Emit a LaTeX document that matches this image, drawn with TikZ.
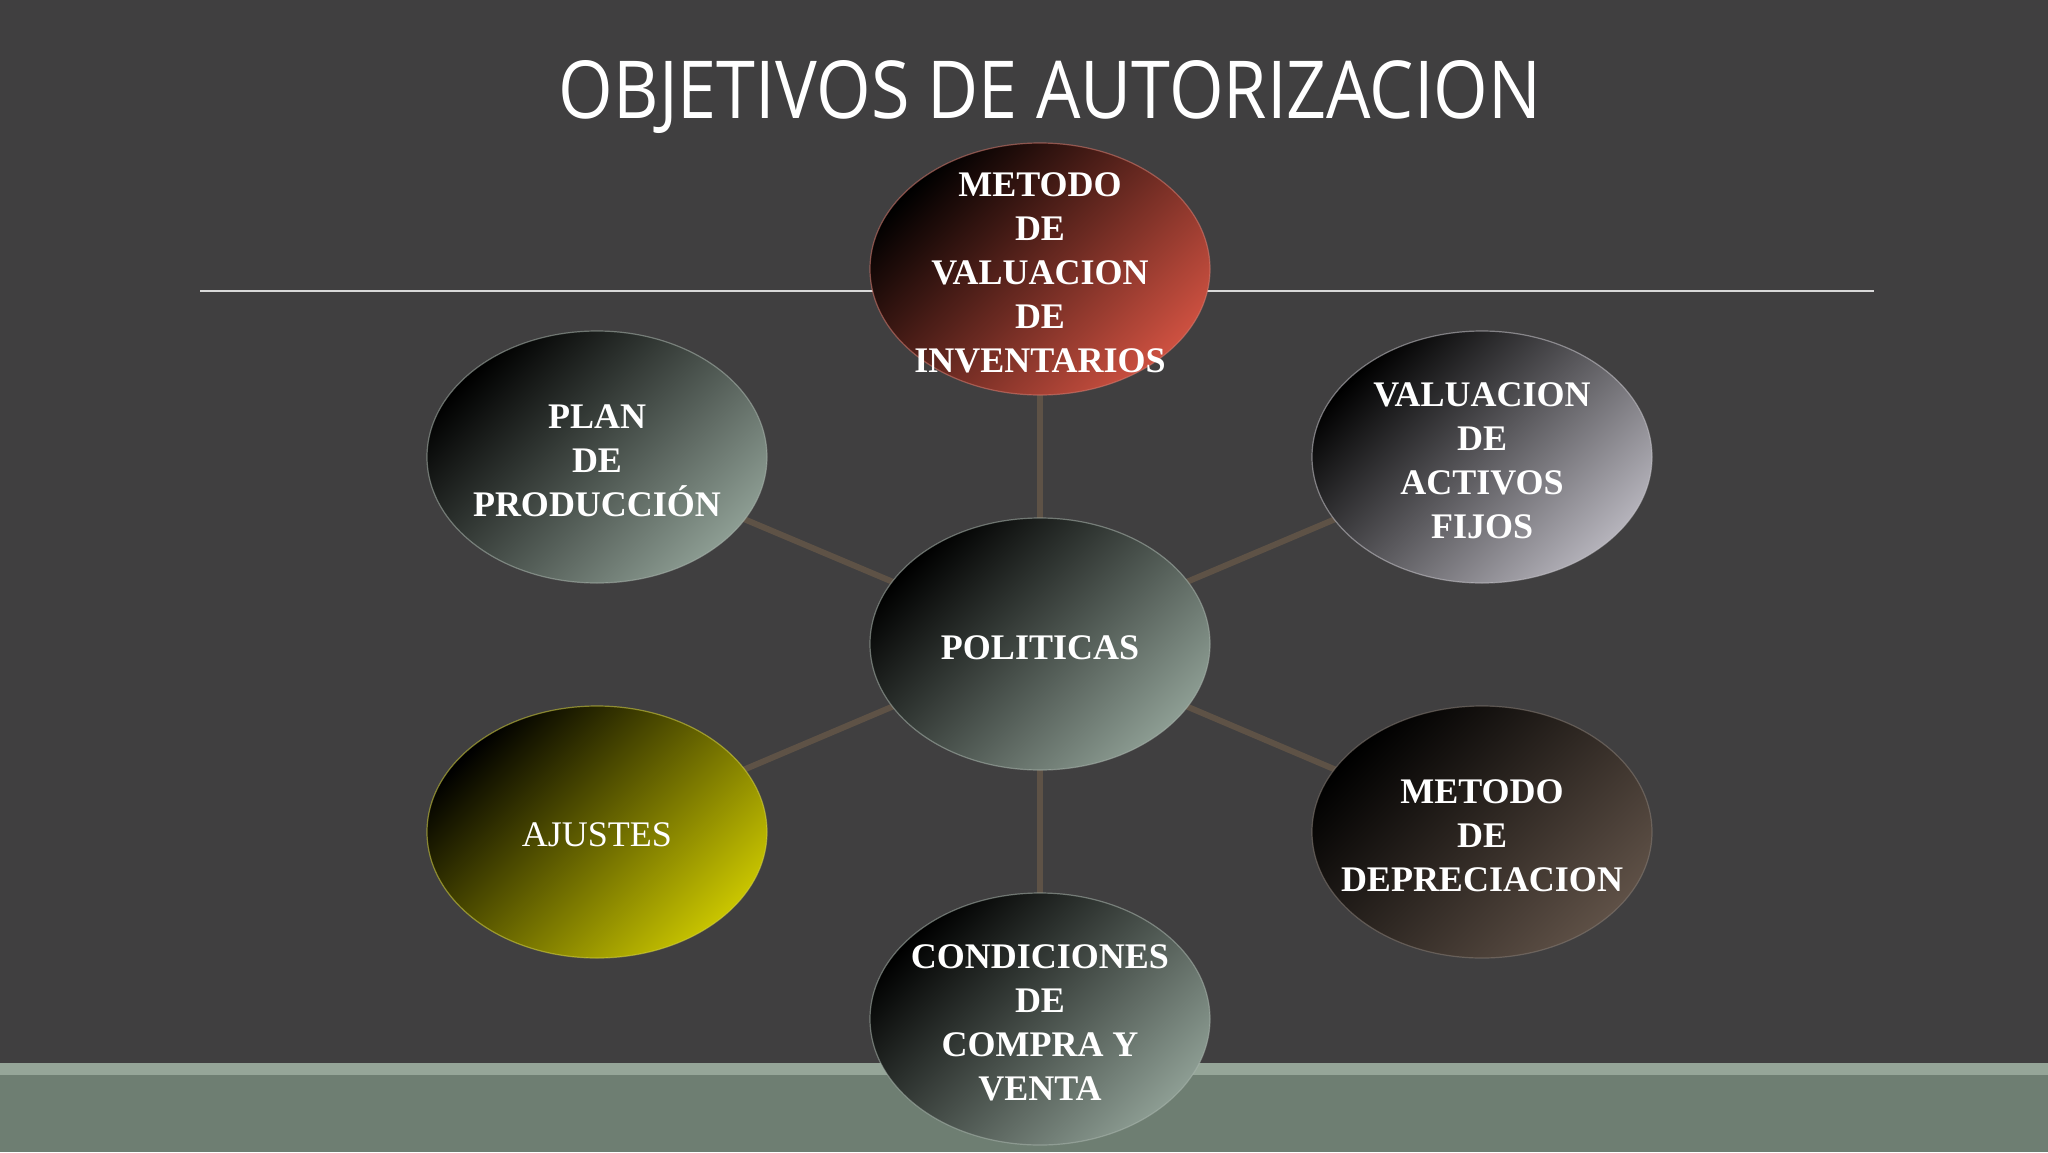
\documentclass[tikz,border=0pt]{standalone}
\usepackage{fontspec}
\setmainfont{Liberation Serif}
\newfontfamily\titlefont{Open Sans}
\usetikzlibrary{shapes.geometric}
\pgfdeclarelayer{bg}
\pgfsetlayers{bg,main}
\definecolor{bgc}{HTML}{403F40}
\definecolor{bandlight}{HTML}{95A598}
\definecolor{banddark}{HTML}{6E7E72}
\definecolor{linec}{HTML}{5E5246}
\definecolor{greyL}{HTML}{8C9C92}
\definecolor{redL}{HTML}{CC5040}
\definecolor{lilacL}{HTML}{B4B2BA}
\definecolor{brownL}{HTML}{5E5046}
\definecolor{yelL}{HTML}{C8C400}
\begin{document}
\begin{tikzpicture}[x=1pt,y=-1pt,
  bub/.style={ellipse, minimum width=340pt, minimum height=252pt, inner sep=0pt,
    top color=black, bottom color=#1, shading angle=45,
    draw=#1!75!white, draw opacity=0.55, line width=1.2pt},
  txt/.style={text=white, font=\fontsize{36}{44}\selectfont\bfseries, align=center, yshift=-4pt},
  txtr/.style={text=white, font=\fontsize{36}{44}\selectfont, align=center, yshift=-3pt},
  conn/.style={draw=linec, line width=6pt}]
\begin{pgfonlayer}{bg}
  \fill[bgc] (0,0) rectangle (2048,1152);
  \fill[bandlight] (0,1063) rectangle (2048,1075);
  \fill[banddark] (0,1075) rectangle (2048,1152);
  \coordinate (hl) at (200,291);
  \coordinate (hr) at (1874,291);
  \draw[line width=1.3pt, color=white!80!bgc] (hl) -- (hr);
\end{pgfonlayer}

\node[font=\titlefont, text=white, anchor=base, inner sep=0pt] (title) at (1050,118)
  {\resizebox{982pt}{58pt}{OBJETIVOS DE AUTORIZACION}};

\node[bub=redL, label={[txt]center:{METODO\\DE\\VALUACION\\DE\\INVENTARIOS}}] (inv) at (1040,269) {};
\node[bub=greyL, label={[txt]center:{PLAN\\DE\\PRODUCCIÓN}}] (plan) at (597,457) {};
\node[bub=lilacL, label={[txt]center:{VALUACION\\DE\\ACTIVOS\\FIJOS}}] (act) at (1482,457) {};
\node[bub=greyL, label={[txt]center:{POLITICAS}}] (pol) at (1040,644) {};
\node[bub=yelL, label={[txtr]center:{AJUSTES}}] (aju) at (597,832) {};
\node[bub=brownL, label={[txt]center:{METODO\\DE\\DEPRECIACION}}] (dep) at (1482,832) {};
\node[bub=greyL, label={[txt]center:{CONDICIONES\\DE\\COMPRA Y\\VENTA}}] (cond) at (1040,1019) {};

\begin{pgfonlayer}{bg}
  \draw[conn] (pol.center) -- (inv.center);
  \draw[conn] (pol.center) -- (plan.center);
  \draw[conn] (pol.center) -- (act.center);
  \draw[conn] (pol.center) -- (aju.center);
  \draw[conn] (pol.center) -- (dep.center);
  \draw[conn] (pol.center) -- (cond.center);
\end{pgfonlayer}
\end{tikzpicture}
\end{document}
